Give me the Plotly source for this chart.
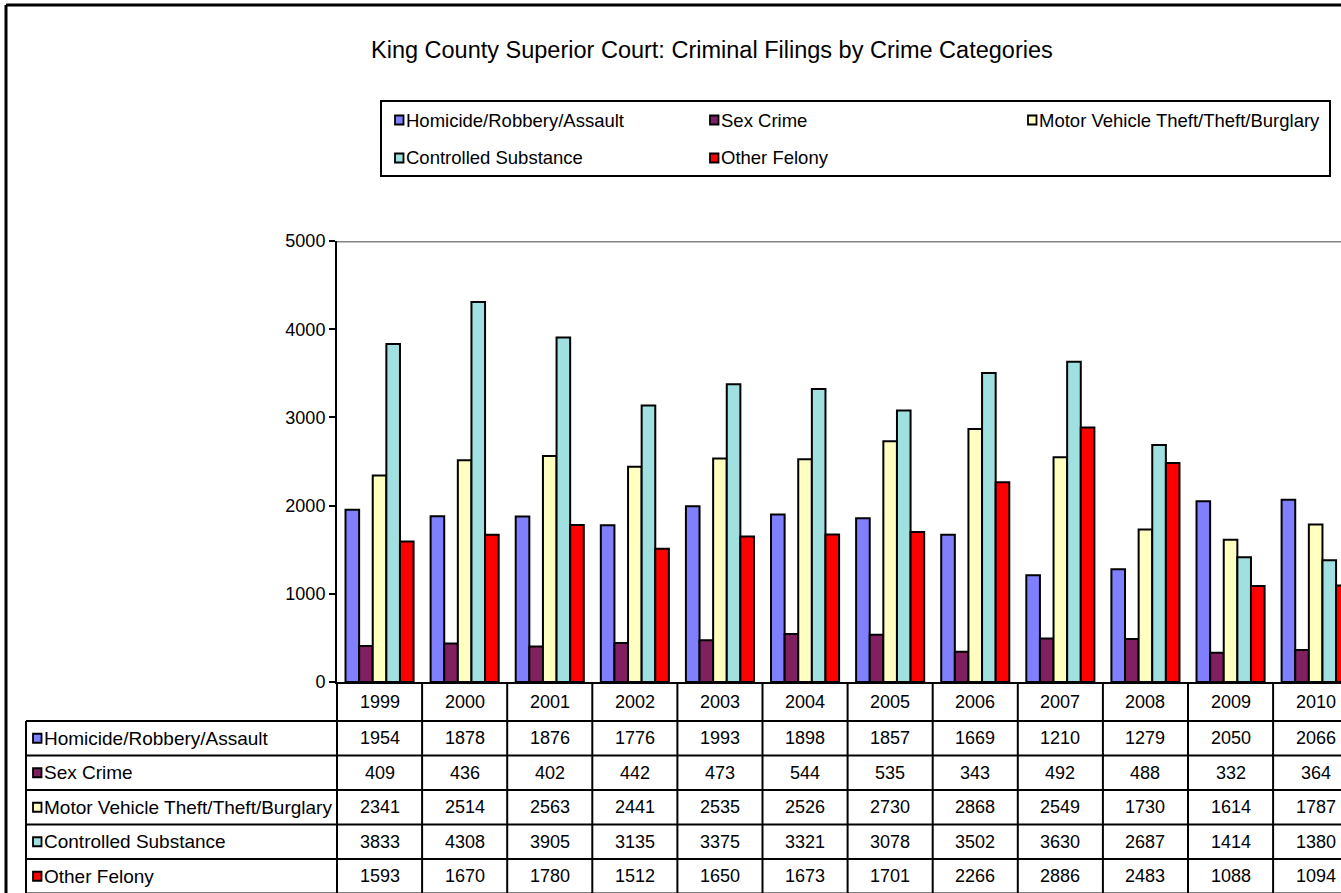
import plotly.graph_objects as go

# ---------------- data ----------------
years = ["1999", "2000", "2001", "2002", "2003", "2004", "2005", "2006", "2007", "2008", "2009", "2010"]
series_names = [
    "Homicide/Robbery/Assault",
    "Sex Crime",
    "Motor Vehicle Theft/Theft/Burglary",
    "Controlled Substance",
    "Other Felony",
]
homicide = [1954, 1878, 1876, 1776, 1993, 1898, 1857, 1669, 1210, 1279, 2050, 2066]
sex_crime = [409, 436, 402, 442, 473, 544, 535, 343, 492, 488, 332, 364]
motor_theft = [2341, 2514, 2563, 2441, 2535, 2526, 2730, 2868, 2549, 1730, 1614, 1787]
controlled = [3833, 4308, 3905, 3135, 3375, 3321, 3078, 3502, 3630, 2687, 1414, 1380]
other_felony = [1593, 1670, 1780, 1512, 1650, 1673, 1701, 2266, 2886, 2483, 1088, 1094]
y_ticks = [0, 1000, 2000, 3000, 4000, 5000]
title_text = "King County Superior Court: Criminal Filings by Crime Categories"

series_values = [homicide, sex_crime, motor_theft, controlled, other_felony]
colors = ["#8080FF", "#802060", "#FFFFC0", "#A0E0E0", "#FF0000"]

# ---------------- geometry ----------------
W, H = 1341, 893
ML, MR, MT, MB = 337, 0, 241, 211
COLW = 85.1
XR = [-0.5, -0.5 + (W - ML - MR) / COLW]
FONT = "Liberation Sans, Arial, sans-serif"
FS_NUM = 18
FS_LBL = 19
FS_LEG = 18.5


def px_x(px):
    return (px - ML) / (W - ML - MR)


def px_y(py):
    return (H - MB - py) / (H - MT - MB)


def dx(v):
    return (v - XR[0]) / (XR[1] - XR[0])


fig = go.Figure()
for name, vals, col in zip(series_names, series_values, colors):
    fig.add_trace(go.Bar(
        x=years, y=vals, name=name,
        marker=dict(color=col, line=dict(color="black", width=2)),
        showlegend=False,
    ))

shapes = []
annotations = []
BLK = dict(color="black", width=2)

# outer chart frame (left and top visible)
shapes.append(dict(type="line", xref="paper", yref="paper", x0=px_x(6), x1=px_x(1345),
                   y0=px_y(5), y1=px_y(5), line=dict(color="black", width=3)))
shapes.append(dict(type="line", xref="paper", yref="paper", x0=px_x(6), x1=px_x(6),
                   y0=px_y(5), y1=px_y(900), line=dict(color="black", width=3)))

# top plot border (gray)
shapes.append(dict(type="line", xref="paper", yref="y", x0=0, x1=1, y0=5000, y1=5000,
                   line=dict(color="#858585", width=3)))

# ---------------- data table ----------------
row_lines = [721, 755.5, 790, 824.5, 859, 893.5]
label_left = 26
table_bottom = 900
for i in range(len(years) + 1):
    xp = dx(i - 0.5)
    shapes.append(dict(type="line", xref="paper", yref="paper", x0=xp, x1=xp,
                       y0=px_y(682), y1=px_y(table_bottom), line=BLK))
shapes.append(dict(type="line", xref="paper", yref="paper", x0=px_x(label_left), x1=px_x(label_left),
                   y0=px_y(row_lines[0]), y1=px_y(table_bottom), line=BLK))
for ry in row_lines:
    shapes.append(dict(type="line", xref="paper", yref="paper", x0=px_x(label_left), x1=1.02,
                       y0=px_y(ry), y1=px_y(ry), line=BLK))

for i, yr in enumerate(years):
    annotations.append(dict(xref="paper", yref="paper", x=dx(i), y=px_y((682 + 721) / 2),
                            text=yr, showarrow=False, xanchor="center", yanchor="middle",
                            font=dict(size=FS_NUM, color="black", family=FONT)))

for r, (name, vals, col) in enumerate(zip(series_names, series_values, colors)):
    top, bot = row_lines[r], row_lines[r + 1]
    cy = (top + bot) / 2
    shapes.append(dict(type="rect", xref="paper", yref="paper",
                       x0=px_x(33), x1=px_x(41.5), y0=px_y(cy - 4.5), y1=px_y(cy + 4.5),
                       fillcolor=col, line=dict(color="black", width=1.8)))
    annotations.append(dict(xref="paper", yref="paper", x=px_x(42), y=px_y(cy),
                            text=name, showarrow=False, xanchor="left", yanchor="middle",
                            font=dict(size=FS_LBL, color="black", family=FONT)))
    for i, v in enumerate(vals):
        annotations.append(dict(xref="paper", yref="paper", x=dx(i), y=px_y(cy),
                                text=str(v), showarrow=False, xanchor="center", yanchor="middle",
                                font=dict(size=FS_NUM, color="black", family=FONT)))

# ---------------- legend box ----------------
shapes.append(dict(type="rect", xref="paper", yref="paper",
                   x0=px_x(381), x1=px_x(1330), y0=px_y(101), y1=px_y(176),
                   line=dict(color="black", width=2), fillcolor="rgba(0,0,0,0)"))
leg_pos = [(395, 120), (710, 120), (1028, 120), (395, 158), (710, 158)]
for (lx, ly), name, col in zip(leg_pos, series_names, colors):
    shapes.append(dict(type="rect", xref="paper", yref="paper",
                       x0=px_x(lx), x1=px_x(lx + 8.5), y0=px_y(ly - 4.5), y1=px_y(ly + 4.5),
                       fillcolor=col, line=dict(color="black", width=1.8)))
    annotations.append(dict(xref="paper", yref="paper", x=px_x(lx + 9), y=px_y(ly),
                            text=name, showarrow=False, xanchor="left", yanchor="middle",
                            font=dict(size=FS_LEG, color="black", family=FONT)))

# title
annotations.append(dict(xref="paper", yref="paper", x=px_x(712), y=px_y(50),
                        text=title_text, showarrow=False, xanchor="center", yanchor="middle",
                        font=dict(size=23.5, color="black", family=FONT)))

fig.update_layout(
    width=W, height=H,
    margin=dict(l=ML, r=MR, t=MT, b=MB, pad=0),
    paper_bgcolor="white", plot_bgcolor="white",
    barmode="group", bargap=0.2, bargroupgap=0,
    font=dict(family=FONT, size=FS_NUM, color="black"),
    xaxis=dict(range=XR, showticklabels=False, ticks="", showgrid=False, zeroline=False,
               showline=True, linecolor="black", linewidth=2, fixedrange=True),
    yaxis=dict(range=[0, 5000], tickvals=y_ticks, ticks="outside", ticklen=6, tickwidth=2,
               tickcolor="black", showgrid=False, zeroline=False, showline=True,
               linecolor="black", linewidth=2, tickfont=dict(size=18, family=FONT), fixedrange=True),
    shapes=shapes, annotations=annotations,
)

fig.write_html(
    "out.html",
    config={"displayModeBar": False},
    post_script=(
        "document.body.style.margin='0';"
        "document.body.style.overflow='hidden';"
        "document.documentElement.style.overflow='hidden';"
    ),
)
